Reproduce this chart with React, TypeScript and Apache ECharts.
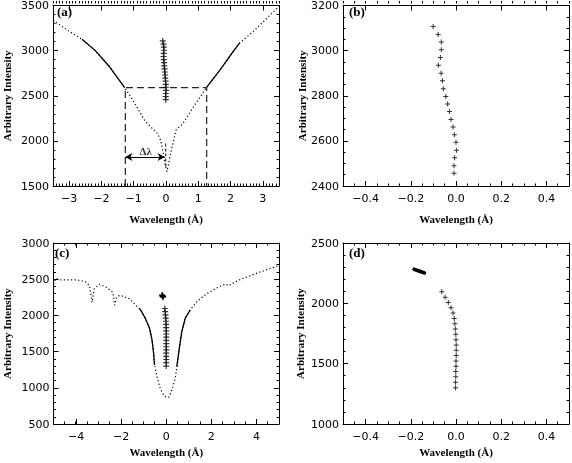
import { useEffect, useRef } from 'react';
import * as echarts from 'echarts';

// ---------- data ----------
// Panel (a): line profile, solid wing segments, bisector
const profileAx = [-3.5, -3.0, -2.6, -2.19, -1.77, -1.28, -1.04, -0.63, -0.26, -0.16, -0.10, -0.03, 0.03, 0.10, 0.16, 0.31, 0.52, 0.94, 1.25, 1.67, 2.0, 2.28, 2.71, 3.12, 3.5];
const profileAy = [3335, 3215, 3125, 3000, 2830, 2590, 2460, 2210, 2080, 2000, 1890, 1745, 1660, 1780, 1890, 2120, 2190, 2425, 2590, 2783, 2950, 3085, 3213, 3357, 3490];
const wingALx = [-2.6, -2.19, -1.77, -1.28];
const wingALy = [3125, 3000, 2830, 2590];
const wingARx = [1.25, 1.67, 2.0, 2.28];
const wingARy = [2590, 2783, 2950, 3085];
const boxAx = [-1.26, -1.26, 1.26, 1.26];
const boxAy = [1500, 2590, 2590, 1500];
const centerMarkX = [-0.01, -0.01];
const centerMarkY = [1715, 1975];
const arrowX = [-1.26, -0.04];
const arrowY = [1822, 1822];
const deltaLabelPos = [-0.63, 1885];

// Bisector of panel (a), shown enlarged in panel (b)
const bisABx = [-0.101, -0.079, -0.065, -0.065, -0.069, -0.078, -0.066, -0.060, -0.056, -0.045, -0.037, -0.029, -0.022, -0.013, -0.007, 0.000, 0.002, -0.006, -0.009, -0.009];
const bisABy = [3107, 3071, 3038, 3004, 2969, 2935, 2900, 2866, 2831, 2797, 2763, 2730, 2695, 2661, 2627, 2594, 2559, 2525, 2490, 2456];

// Panel (c): line profile and solid core segments
const profileCx = [-5.0, -4.9, -4.67, -4.0, -3.6, -3.4, -3.29, -3.19, -2.96, -2.67, -2.37, -2.29, -2.2, -2.05, -1.64, -1.2, -1.15, -0.93, -0.74, -0.63, -0.56, -0.52, -0.41, -0.27, -0.12, 0.03, 0.12, 0.25, 0.40, 0.47, 0.59, 0.69, 0.84, 1.06, 1.36, 1.8, 2.2, 2.64, 2.75, 3.23, 4.12, 5.0];
const profileCy = [2430, 2510, 2490, 2490, 2470, 2410, 2180, 2370, 2430, 2390, 2320, 2140, 2250, 2280, 2230, 2095, 2084, 1960, 1822, 1660, 1476, 1315, 1153, 993, 900, 865, 872, 970, 1131, 1292, 1568, 1775, 1960, 2075, 2190, 2300, 2374, 2434, 2410, 2489, 2595, 2690];
const coreCLx = [-1.2, -1.15, -0.93, -0.74, -0.63, -0.56, -0.52];
const coreCLy = [2095, 2084, 1960, 1822, 1660, 1476, 1315];
const coreCRx = [0.47, 0.59, 0.69, 0.84, 1.06];
const coreCRy = [1292, 1568, 1775, 1960, 2075];

// Bisector of panel (c), shown enlarged in panel (d)
const bisCDx = [-0.063, -0.048, -0.034, -0.022, -0.013, -0.008, -0.005, -0.003, -0.001, 0.000, 0.001, 0.001, 0.001, 0.000, 0.000, -0.001, -0.001, -0.002, -0.002];
const bisCDy = [2095, 2051, 2007, 1963, 1919, 1875, 1831, 1787, 1743, 1699, 1655, 1611, 1567, 1523, 1479, 1435, 1391, 1347, 1300];
// Cluster of points near the top of the bisector
const blobX = [-0.185, -0.176, -0.167, -0.158, -0.149, -0.14];
const blobY = [2282, 2276, 2270, 2264, 2258, 2252];

// Axis ranges / ticks
const panelLabels = ['(a)', '(b)', '(c)', '(d)'];
const xRanges = [[-3.5, 3.5], [-0.5, 0.5], [-5, 5], [-0.5, 0.5]];
const xMajor = [1, 0.2, 2, 0.2];
const xMinor = [0.1, 0.05, 0.5, 0.05];
const yRanges = [[1500, 3500], [2400, 3200], [500, 3000], [1000, 2500]];
const yMajor = [500, 200, 500, 500];
const yMinorSplit = [5, 4, 5, 5];
const xTitle = 'Wavelength (Å)';
const yTitle = 'Arbitrary Intensity';

// ---------- style ----------
const PLUS = 'path://M2,0H3V2H5V3H3V5H2V3H0V2H2Z';
const SERIF = '"Liberation Serif", "Times New Roman", serif';
const SANS = '"DejaVu Sans", sans-serif';
const INK = '#000';

const grids = [
  { left: 53, top: 1, width: 226, height: 185 },
  { left: 343, top: 1, width: 226, height: 185 },
  { left: 53, top: 243, width: 226, height: 181 },
  { left: 343, top: 243, width: 226, height: 181 },
];
const xNameGaps = [27, 27, 22, 22];
const yNameGaps = [41, 36, 41.5, 37.5];
const xDecimals = [0, 1, 0, 1];

const zip = (xs: number[], ys: number[]) => xs.map((x, i) => [x, ys[i]]);

function fmt(step: number, dec: number) {
  return (v: number) => {
    if (Math.abs(v / step - Math.round(v / step)) > 1e-6) return '';
    const s = Math.abs(v).toFixed(dec);
    return (v < -1e-9 ? '\u2212' : '') + s;
  };
}

const ls = () => ({ color: INK, width: 1 });

function majorX(p: number, gridIndex: number, position: 'bottom' | 'top') {
  const [x0, x1] = xRanges[p];
  const ax: any = {
    type: 'value', gridIndex, position, min: x0, max: x1,
    splitNumber: Math.round((x1 - x0) / xMajor[p]),
    splitLine: { show: false },
    axisLine: { show: true, onZero: false, lineStyle: ls() },
    axisTick: { show: true, inside: true, length: 5, lineStyle: ls() },
    minorTick: { show: false },
    axisLabel: { show: false },
  };
  if (position === 'bottom') {
    ax.axisLabel = { show: true, margin: 7, color: INK, fontFamily: SANS, fontSize: 11, formatter: fmt(xMajor[p], xDecimals[p]) };
    ax.name = xTitle;
    ax.nameLocation = 'middle';
    ax.nameGap = xNameGaps[p];
    ax.nameTextStyle = { fontFamily: SERIF, fontWeight: 'bold', fontSize: 11, color: INK };
  }
  return ax;
}

function minorX(p: number, gridIndex: number, position: 'bottom' | 'top') {
  const [x0, x1] = xRanges[p];
  return {
    type: 'value', gridIndex, position, min: x0, max: x1, interval: xMinor[p],
    splitLine: { show: false },
    axisLine: { show: false, onZero: false },
    axisTick: { show: true, inside: true, length: 2.5, lineStyle: ls() },
    axisLabel: { show: false },
  };
}

function majorY(p: number, gridIndex: number, position: 'left' | 'right') {
  const [y0, y1] = yRanges[p];
  const ax: any = {
    type: 'value', gridIndex, position, min: y0, max: y1, interval: yMajor[p],
    splitLine: { show: false },
    axisLine: { show: true, onZero: false, lineStyle: ls() },
    axisTick: { show: true, inside: true, length: 5, lineStyle: ls() },
    minorTick: { show: true, splitNumber: yMinorSplit[p], length: 2.5, lineStyle: ls() },
    axisLabel: { show: false },
  };
  if (position === 'left') {
    ax.axisLabel = { show: true, margin: 4, color: INK, fontFamily: SANS, fontSize: 11, formatter: (v: number) => String(Math.round(v)) };
    ax.name = yTitle;
    ax.nameLocation = 'middle';
    ax.nameGap = yNameGaps[p];
    ax.nameTextStyle = { fontFamily: SERIF, fontWeight: 'bold', fontSize: 11, color: INK };
  }
  return ax;
}

function buildOption() {
  const grid: any[] = [];
  const xAxis: any[] = [];
  const yAxis: any[] = [];
  const xIdx: number[] = [];
  const yIdx: number[] = [];

  for (let p = 0; p < 4; p++) {
    const g = grids[p];
    grid.push({ ...g });
    grid.push({ ...g });
    const gMain = 2 * p;
    const gMinor = 2 * p + 1;
    const [y0, y1] = yRanges[p];
    xIdx.push(xAxis.length);
    xAxis.push(majorX(p, gMain, 'bottom'));
    xAxis.push(majorX(p, gMain, 'top'));
    xAxis.push(minorX(p, gMinor, 'bottom'));
    xAxis.push(minorX(p, gMinor, 'top'));
    yIdx.push(yAxis.length);
    yAxis.push(majorY(p, gMain, 'left'));
    yAxis.push(majorY(p, gMain, 'right'));
    yAxis.push({ type: 'value', gridIndex: gMinor, min: y0, max: y1, show: false });
  }

  const dotted = (xi: number, yi: number, data: number[][]) => ({
    type: 'line', xAxisIndex: xi, yAxisIndex: yi, data, showSymbol: false, symbol: 'none',
    lineStyle: { color: INK, width: 1.2, type: [1.2, 2.4] }, silent: true, z: 2,
  });
  const solid = (xi: number, yi: number, data: number[][]) => ({
    type: 'line', xAxisIndex: xi, yAxisIndex: yi, data, showSymbol: false, symbol: 'none',
    lineStyle: { color: INK, width: 1.3, type: 'solid' }, silent: true, z: 3,
  });
  const crosses = (xi: number, yi: number, data: number[][], size: number) => ({
    type: 'scatter', xAxisIndex: xi, yAxisIndex: yi, data, symbol: PLUS, symbolSize: size,
    itemStyle: { color: INK }, silent: true, z: 4,
  });

  const series: any[] = [
    // (a)
    dotted(xIdx[0], yIdx[0], zip(profileAx, profileAy)),
    solid(xIdx[0], yIdx[0], zip(wingALx, wingALy)),
    solid(xIdx[0], yIdx[0], zip(wingARx, wingARy)),
    {
      type: 'line', xAxisIndex: xIdx[0], yAxisIndex: yIdx[0], data: zip(boxAx, boxAy),
      showSymbol: false, symbol: 'none', silent: true,
      lineStyle: { color: '#222', width: 1.2, type: [7, 4] },
      markLine: {
        silent: true, symbol: ['arrow', 'arrow'], symbolSize: [6, 7],
        label: { show: false },
        lineStyle: { color: INK, width: 1.2, type: 'solid' },
        data: [[{ coord: [arrowX[0], arrowY[0]] }, { coord: [arrowX[1], arrowY[1]] }]],
      },
    },
    {
      type: 'line', xAxisIndex: xIdx[0], yAxisIndex: yIdx[0], data: zip(centerMarkX, centerMarkY),
      showSymbol: false, symbol: 'none', silent: true,
      lineStyle: { color: '#222', width: 1.1, type: [3, 2] },
    },
    {
      type: 'scatter', xAxisIndex: xIdx[0], yAxisIndex: yIdx[0], data: [deltaLabelPos],
      symbol: 'circle', symbolSize: 1, itemStyle: { color: 'rgba(0,0,0,0)' }, silent: true,
      label: { show: true, position: 'inside', formatter: 'Δλ', fontFamily: SERIF, fontWeight: 'bold', fontSize: 11, color: INK },
    },
    crosses(xIdx[0], yIdx[0], zip(bisABx, bisABy), 6),
    // (b)
    crosses(xIdx[1], yIdx[1], zip(bisABx, bisABy), 5),
    // (c)
    dotted(xIdx[2], yIdx[2], zip(profileCx, profileCy)),
    solid(xIdx[2], yIdx[2], zip(coreCLx, coreCLy)),
    solid(xIdx[2], yIdx[2], zip(coreCRx, coreCRy)),
    crosses(xIdx[2], yIdx[2], zip(bisCDx, bisCDy), 6),
    crosses(xIdx[2], yIdx[2], zip(blobX, blobY), 6),
    // (d)
    crosses(xIdx[3], yIdx[3], zip(bisCDx, bisCDy), 5),
    {
      type: 'line', xAxisIndex: xIdx[3], yAxisIndex: yIdx[3], data: zip(blobX, blobY),
      showSymbol: false, symbol: 'none', silent: true,
      lineStyle: { color: INK, width: 3.5, cap: 'round' },
    },
    crosses(xIdx[3], yIdx[3], zip(blobX, blobY), 4),
  ];

  const labelPos = [[57, 5], [349, 5], [55, 246], [349, 246]];
  const title = panelLabels.map((t, i) => ({
    text: t, left: labelPos[i][0], top: labelPos[i][1], padding: 0,
    textStyle: { fontFamily: SERIF, fontWeight: 'bold', fontSize: 13, color: INK },
  }));

  return { animation: false, title, grid, xAxis, yAxis, series };
}

export default function App() {
  const ref = useRef<HTMLDivElement>(null);
  useEffect(() => {
    if (!ref.current) return;
    const chart = echarts.init(ref.current, null, { renderer: 'svg' });
    chart.setOption(buildOption() as any);
    return () => chart.dispose();
  }, []);
  return (
    <div
      ref={ref}
      style={{ position: 'fixed', left: 0, top: 0, width: 572, height: 463 }}
    />
  );
}
